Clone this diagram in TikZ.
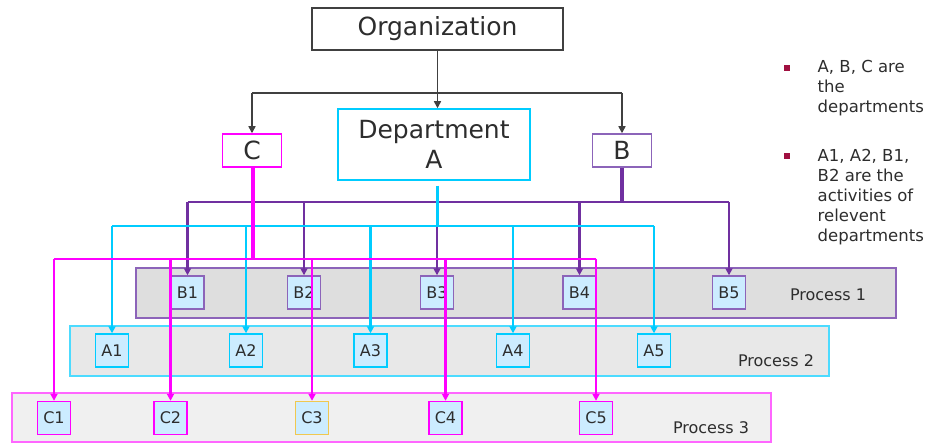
\documentclass[tikz,border=0pt]{standalone}
\usepackage{fontspec}
\setmainfont{DejaVu Sans}
\usetikzlibrary{arrows.meta}

\definecolor{magline}{RGB}{255,0,255}
\definecolor{cyanline}{RGB}{0,204,255}
\definecolor{purpline}{RGB}{112,48,160}
\definecolor{purpbox}{RGB}{140,100,185}
\definecolor{actfill}{RGB}{204,236,255}
\definecolor{bulletred}{RGB}{160,16,64}
\definecolor{txtgrey}{RGB}{45,45,45}
\definecolor{orggrey}{RGB}{64,64,64}
\definecolor{yellowbox}{RGB}{240,200,80}

\begin{document}
\begin{tikzpicture}[x=1pt,y=-1pt,
	dept/.style={draw, line width=1.5pt, fill=white, text=txtgrey, inner sep=0pt, align=center, font=\fontsize{25}{30}\selectfont},
	act/.style={draw, line width=1.4pt, fill=actfill, minimum width=33pt, minimum height=33pt, inner sep=0pt, text=txtgrey, font=\fontsize{16}{19}\selectfont},
	band/.style={draw, line width=1.5pt, minimum height=50pt, inner sep=0pt},
	plabel/.style={text=txtgrey, inner sep=0pt, font=\fontsize{16}{19}\selectfont},
	note/.style={anchor=north west, text=txtgrey, inner sep=0pt, align=left, font=\fontsize{16.5}{20}\selectfont},
	tip/.style={-{Triangle[length=7pt,width=7pt]}},
	oline/.style={orggrey, line width=1.5pt},
	pline/.style={purpline, line width=2.5pt},
	cline/.style={cyanline, line width=2.2pt},
	mline/.style={magline, line width=2.6pt}]
	\useasboundingbox (0,0) rectangle (926,443);
	% departments
	\node [dept, draw=orggrey, minimum width=251pt, minimum height=42pt] (org) at (437.5,29) {Organization};
	\node [dept, draw=cyanline, minimum width=192pt, minimum height=71pt] (deptA) at (434,144.5) {Department\\A};
	\node [dept, draw=magline, minimum width=59pt, minimum height=33pt] (C) at (252,150.5) {C};
	\node [dept, draw=purpbox, minimum width=59pt, minimum height=33pt] (B) at (622,150.5) {B};
	% process bands
	\node [band, draw=purpbox, fill={rgb,255:red,222;green,222;blue,222}, minimum width=760pt] (proc1) at (516,293) {};
	\node [band, draw=cyanline!70, fill={rgb,255:red,232;green,232;blue,232}, minimum width=759pt] (proc2) at (449.5,351) {};
	\node [band, draw=magline!60, fill={rgb,255:red,240;green,240;blue,240}, minimum width=759pt, minimum height=49pt] (proc3) at (391.5,417.5) {};
	\node [plabel] (lbl1) at (828,295) {Process 1};
	\node [plabel] (lbl2) at (776,361) {Process 2};
	\node [plabel] (lbl3) at (711,428) {Process 3};
	% activities
	\node [act, draw=purpbox] (B1) at (187.5,292.5) {B1};
	\node [act, draw=purpbox] (B2) at (304,292.5) {B2};
	\node [act, draw=purpbox] (B3) at (437,292.5) {B3};
	\node [act, draw=purpbox] (B4) at (579.5,292.5) {B4};
	\node [act, draw=purpbox] (B5) at (729,292.5) {B5};
	\node [act, draw=cyanline] (A1) at (112,350.5) {A1};
	\node [act, draw=cyanline] (A2) at (246,350.5) {A2};
	\node [act, draw=cyanline] (A3) at (370.5,350.5) {A3};
	\node [act, draw=cyanline] (A4) at (513,350.5) {A4};
	\node [act, draw=cyanline] (A5) at (654,350.5) {A5};
	\node [act, draw=magline] (C1) at (54,418) {C1};
	\node [act, draw=magline] (C2) at (170.5,418) {C2};
	\node [act, draw=yellowbox] (C3) at (312,418) {C3};
	\node [act, draw=magline] (C4) at (445.5,418) {C4};
	\node [act, draw=magline] (C5) at (596,418) {C5};
	% organization to departments
	\coordinate (obus) at (437.5,93);
	\draw [oline] (org.south) -- (obus);
	\draw [oline] (C.north |- obus) -- (B.north |- obus);
	\draw [oline, tip] (obus) -- (obus |- deptA.north);
	\draw [oline, tip] (C.north |- obus) -- (C.north);
	\draw [oline, tip] (B.north |- obus) -- (B.north);
	% B activities
	\coordinate (bbus) at (622,202);
	\draw [pline, line width=3.5pt] (B.south) -- (bbus);
	\draw [pline] (B1 |- bbus) -- (B5 |- bbus);
	\draw [pline, tip] (B1 |- bbus) -- (B1.north);
	\draw [pline, tip] (B2 |- bbus) -- (B2.north);
	\draw [pline, tip] (B3 |- bbus) -- (B3.north);
	\draw [pline, tip] (B4 |- bbus) -- (B4.north);
	\draw [pline, tip] (B5 |- bbus) -- (B5.north);
	% A activities
	\coordinate (abus) at (437.5,226);
	\draw [cline, line width=3pt] ([yshift=-5pt]deptA.south -| abus) -- (abus);
	\draw [cline] (A1 |- abus) -- (A5 |- abus);
	\draw [cline, tip] (A1 |- abus) -- (A1.north);
	\draw [cline, tip] (A2 |- abus) -- (A2.north);
	\draw [cline, tip] (A3 |- abus) -- (A3.north);
	\draw [cline, tip] (A4 |- abus) -- (A4.north);
	\draw [cline, tip] (A5 |- abus) -- (A5.north);
	% C activities
	\coordinate (cbus) at (253,259);
	\draw [mline, line width=3.5pt] (C.south -| cbus) -- (cbus);
	\draw [mline] (C1 |- cbus) -- (C5 |- cbus);
	\draw [mline, tip] (C1 |- cbus) -- (C1.north);
	\draw [mline, tip] (C2 |- cbus) -- (C2.north);
	\draw [mline, tip] (C3 |- cbus) -- (C3.north);
	\draw [mline, tip] (C4 |- cbus) -- (C4.north);
	\draw [mline, tip] (C5 |- cbus) -- (C5.north);
	% notes
	\node [fill=bulletred, minimum size=6pt, inner sep=0pt] (bul1) at (787,68) {};
	\node [note] (note1) at (817.5,60) {A, B, C are\\the\\departments};
	\node [fill=bulletred, minimum size=6pt, inner sep=0pt] (bul2) at (787,156) {};
	\node [note] (note2) at (817.5,149) {A1, A2, B1,\\B2 are the\\activities of\\relevent\\departments};
\end{tikzpicture}
\end{document}
